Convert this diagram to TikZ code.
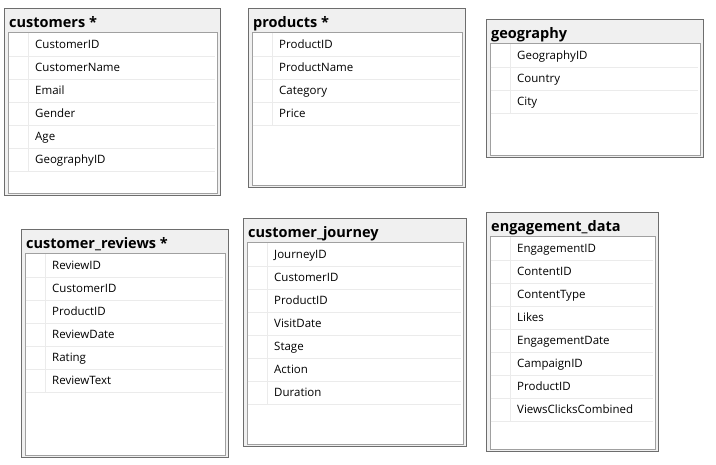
\documentclass[tikz,border=0pt]{standalone}
\usepackage{fontspec}
\setmainfont{Open Sans}
\usetikzlibrary{positioning}
\definecolor{framegray}{HTML}{6D6D6D}
\definecolor{innergray}{HTML}{A0A0A0}
\definecolor{bandgray}{HTML}{F0F0F0}
\definecolor{sepgray}{HTML}{EBEBEB}
\tikzset{
  tablebox/.style={draw=framegray, fill=bandgray, line width=1pt, inner sep=0pt, anchor=north west},
  tabletitle/.style={inner sep=0pt, anchor=base west, font=\fontsize{14.5}{17}\selectfont\bfseries},
  innerbox/.style={draw=innergray, fill=white, line width=1pt, inner sep=0pt, anchor=north west},
  fieldrow/.style={inner sep=0pt, anchor=north west, minimum height=22.9pt},
  fieldname/.style={inner sep=0pt, anchor=base west, font=\fontsize{11.5}{14}\selectfont},
  rowsep/.style={draw=sepgray, line width=1pt}
}
% name, title, left, top, right, bottom, fields
\newcommand{\dbtable}[7]{%
  \node[tablebox, minimum width={#5pt-#3pt}, minimum height={#6pt-#4pt}] (#1) at (#3,#4) {};
  \node[tabletitle] (#1-title) at (#3+5,#4+20) {#2};
  \node[innerbox, minimum width={#5pt-#3pt-6.5pt}, minimum height={#6pt-#4pt-26pt}] (#1-in) at (#3+3.5,#4+24) {};
  \foreach \fld [count=\i] in {#7} {
    \node[fieldrow, minimum width={#5pt-#3pt-9.5pt}] (#1-row\i) at (#3+4.5,#4+25.5+22.9*\i-22.9) {};
    \draw[rowsep] (#1-row\i.south west) -- (#1-row\i.south east);
    \draw[rowsep] ([xshift=20pt]#1-row\i.north west) -- ([xshift=20pt]#1-row\i.south west);
    \node[fieldname] (#1-f\i) at ([xshift=26.5pt, yshift=-15.3pt]#1-row\i.north west) {\fld};
  }
}

\begin{document}
\begin{tikzpicture}[x=1pt, y=-1pt]
  \useasboundingbox (0,0) rectangle (716,465);
  \dbtable{cust}{customers *}{4}{8}{220}{195}{CustomerID, CustomerName, Email, Gender, Age, GeographyID}
  \dbtable{prod}{products *}{248}{8}{465}{187}{ProductID, ProductName, Category, Price}
  \dbtable{geo}{geography}{486}{19}{703}{157}{GeographyID, Country, City}
  \dbtable{rev}{customer\_reviews *}{21}{229}{228}{457}{ReviewID, CustomerID, ProductID, ReviewDate, Rating, ReviewText}
  \dbtable{jour}{customer\_journey}{243}{218}{466}{446}{JourneyID, CustomerID, ProductID, VisitDate, Stage, Action, Duration}
  \dbtable{eng}{engagement\_data}{486}{212}{658}{451}{EngagementID, ContentID, ContentType, Likes, EngagementDate, CampaignID, ProductID, ViewsClicksCombined}
\end{tikzpicture}
\end{document}
